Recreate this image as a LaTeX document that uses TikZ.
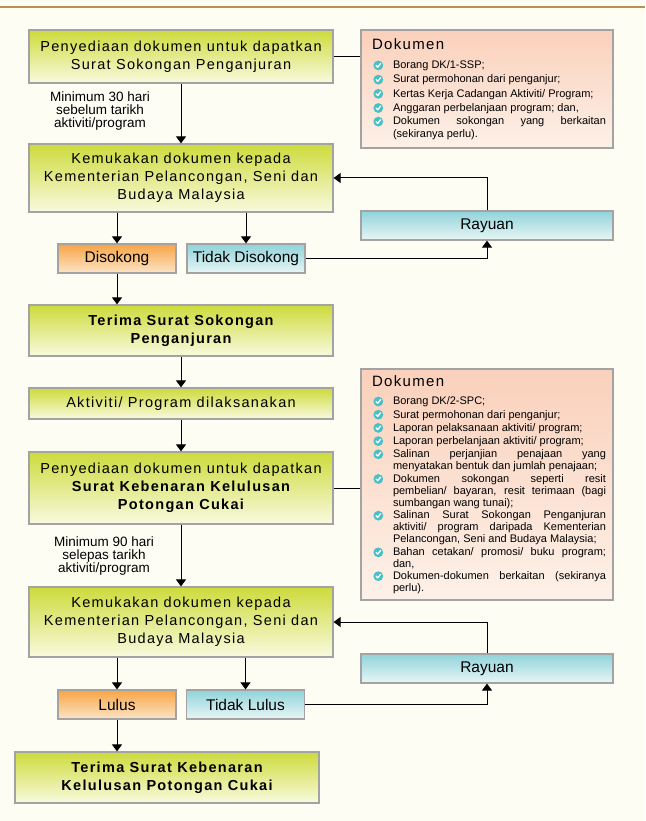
\documentclass[tikz,border=0pt]{standalone}
\usepackage{fontspec}
\setmainfont{Liberation Sans}
\newfontfamily\spaced{Liberation Sans}[LetterSpace=9]
\usetikzlibrary{positioning,arrows.meta}

\definecolor{bgcream}{HTML}{FEFDF4}
\definecolor{topline}{HTML}{B8904F}
\definecolor{boxgray}{HTML}{A3A3A3}
\definecolor{limetop}{HTML}{CDDB3B}
\definecolor{limebot}{HTML}{F9FADF}
\definecolor{orangetop}{HTML}{F8A444}
\definecolor{orangebot}{HTML}{FCE4C8}
\definecolor{bluetop}{HTML}{8FD3DA}
\definecolor{bluebot}{HTML}{E9F6F5}
\definecolor{peachtop}{HTML}{FAD0BB}
\definecolor{peachbot}{HTML}{FDF1E8}
\definecolor{tickteal}{HTML}{48C0C8}

\newsavebox{\tickbox}
\newlength{\dokgap}
\newcommand{\dokitem}[1]{\par\vspace{\dokgap}\noindent\makebox[24pt][l]{\hspace*{4.4pt}\usebox{\tickbox}}%
  \parbox[t]{213pt}{\hyphenpenalty=10000\exhyphenpenalty=10000\hbadness=10000 #1}}

\begin{document}
\sbox{\tickbox}{\begin{pgfpicture}
  \pgfsetbaseline{-3.3pt}
  \pgfsetfillcolor{tickteal}
  \pgfpathcircle{\pgfpointorigin}{4.9pt}\pgfusepath{fill}
  \pgfsetstrokecolor{white}\pgfsetlinewidth{1.3pt}\pgfsetroundcap\pgfsetroundjoin
  \pgfpathmoveto{\pgfpoint{-2.2pt}{0pt}}\pgfpathlineto{\pgfpoint{-0.6pt}{-1.7pt}}\pgfpathlineto{\pgfpoint{2.3pt}{1.9pt}}\pgfusepath{stroke}
\end{pgfpicture}}
\begin{tikzpicture}[x=1pt,y=-1pt,on grid,
    greenbox/.style={draw=boxgray,line width=1.2pt,top color=limetop,bottom color=limebot,
      minimum width=304pt,align=center,inner sep=2pt,font=\spaced\fontsize{14.5}{18}\selectfont},
    orangebox/.style={draw=boxgray,line width=1.2pt,top color=orangetop,bottom color=orangebot,
      minimum width=118pt,minimum height=29pt,inner sep=2pt,font=\fontsize{15.5}{18}\selectfont},
    bluebox/.style={orangebox,top color=bluetop,bottom color=bluebot},
    rayubox/.style={bluebox,minimum width=252pt},
    dokbox/.style={draw=boxgray,line width=1.2pt,top color=peachtop,bottom color=peachbot,
      text width=236pt,inner xsep=8pt,inner ysep=0pt,align=justify},
    note/.style={align=center,font=\fontsize{13.5}{13.3}\selectfont},
    flow/.style={-{Triangle[width=10pt,length=7pt]},line width=1pt}]
  % page
  \fill[bgcream] (0,0) rectangle (645,821);
  \useasboundingbox (0,0) rectangle (645,821);
  \draw[topline,line width=1.5pt] (0,7) -- (645,7);

  % sokongan
  \node[greenbox,minimum height=53pt] (penA) at (181,56.5) {Penyediaan dokumen untuk dapatkan\\Surat Sokongan Penganjuran};
  \node[greenbox,minimum height=68pt] (kemA) [below=121.5pt of penA] {Kemukakan dokumen kepada\\Kementerian Pelancongan, Seni dan\\Budaya Malaysia};
  \node[orangebox] (sokong) [below left=80.5pt and 64pt of kemA] {Disokong};
  \node[bluebox] (tidakA) [right=129pt of sokong] {Tidak Disokong};
  \node[rayubox] (rayuA) [below right=47.5pt and 306pt of kemA] {Rayuan};
  \node[greenbox,minimum height=51pt] (terimaA) [below=152.5pt of kemA] {\bfseries Terima Surat Sokongan\\\bfseries Penganjuran};
  \node[note] (lbl30) [below left=54.5pt and 81pt of penA] {Minimum 30 hari\\sebelum tarikh\\aktiviti/program};
  \node[dokbox,minimum height=118pt] (dokA) [below right=32.5pt and 306pt of penA] {%
    {\spaced\fontsize{15}{16}\selectfont\hspace*{3pt}Dokumen}\par\vspace{5.5pt}
    \fontsize{11}{12.6}\selectfont\setlength{\dokgap}{1.6pt}%
    \dokitem{Borang DK/1-SSP;}
    \dokitem{Surat permohonan dari penganjur;}
    \dokitem{Kertas Kerja Cadangan Aktiviti/ Program;}
    \dokitem{Anggaran perbelanjaan program; dan,}
    \dokitem{Dokumen sokongan yang berkaitan\linebreak (sekiranya perlu).}};

  % kebenaran
  \node[greenbox,minimum height=31pt] (aktiviti) [below=73pt of terimaA] {Aktiviti/ Program dilaksanakan};
  \node[greenbox,minimum height=72pt] (penB) [below=84.5pt of aktiviti] {Penyediaan dokumen untuk dapatkan\\\bfseries Surat Kebenaran Kelulusan\\\bfseries Potongan Cukai};
  \node[greenbox,minimum height=70pt] (kemB) [below=134pt of penB] {Kemukakan dokumen kepada\\Kementerian Pelancongan, Seni dan\\Budaya Malaysia};
  \node[orangebox] (lulus) [below left=82.5pt and 64pt of kemB] {Lulus};
  \node[bluebox] (tidakB) [right=128.5pt of lulus] {Tidak Lulus};
  \node[rayubox] (rayuB) [below right=46.5pt and 306pt of kemB] {Rayuan};
  \node[greenbox,minimum height=51pt] (terimaB) [below right=73pt and 50pt of lulus] {\bfseries Terima Surat Kebenaran\\\bfseries Kelulusan Potongan Cukai};
  \node[note] (lbl90) [below left=68pt and 77pt of penB] {Minimum 90 hari\\selepas tarikh\\aktiviti/program};
  \node[dokbox,minimum height=231pt] (dokB) [above right=3.5pt and 306pt of penB] {%
    {\spaced\fontsize{15}{16}\selectfont\hspace*{3pt}Dokumen}\par\vspace{5.5pt}
    \fontsize{11}{12}\selectfont\setlength{\dokgap}{1.2pt}%
    \dokitem{Borang DK/2-SPC;}
    \dokitem{Surat permohonan dari penganjur;}
    \dokitem{Laporan pelaksanaan aktiviti/ program;}
    \dokitem{Laporan perbelanjaan aktiviti/ program;}
    \dokitem{Salinan perjanjian penajaan yang\linebreak menyatakan bentuk dan jumlah penajaan;}
    \dokitem{Dokumen sokongan seperti resit\linebreak pembelian/ bayaran, resit terimaan (bagi\linebreak sumbangan wang tunai);}
    \dokitem{Salinan Surat Sokongan Penganjuran\linebreak aktiviti/ program daripada Kementerian\linebreak Pelancongan, Seni and Budaya Malaysia;}
    \dokitem{Bahan cetakan/ promosi/ buku program;\linebreak dan,}
    \dokitem{Dokumen-dokumen berkaitan (sekiranya\linebreak perlu).}};

  \path[flow]
    (penA) edge (kemA)
    (kemA.south -| sokong) edge (sokong)
    (kemA.south -| tidakA) edge (tidakA)
    (sokong) edge (sokong |- terimaA.north)
    (terimaA) edge (aktiviti)
    (aktiviti) edge (penB)
    (penB) edge (kemB)
    (kemB.south -| lulus) edge (lulus)
    (kemB.south -| tidakB) edge (tidakB)
    (lulus) edge (lulus |- terimaB.north);
  \draw[flow] (tidakA) -| (rayuA);
  \draw[flow] (rayuA) |- (kemA);
  \draw[flow] (tidakB) -| (rayuB);
  \draw[flow] (rayuB) |- (kemB);
  \draw[line width=1pt] (penA) -- (penA -| dokA.west);
  \draw[line width=1pt] (penB) -- (penB -| dokB.west);
\end{tikzpicture}
\end{document}
